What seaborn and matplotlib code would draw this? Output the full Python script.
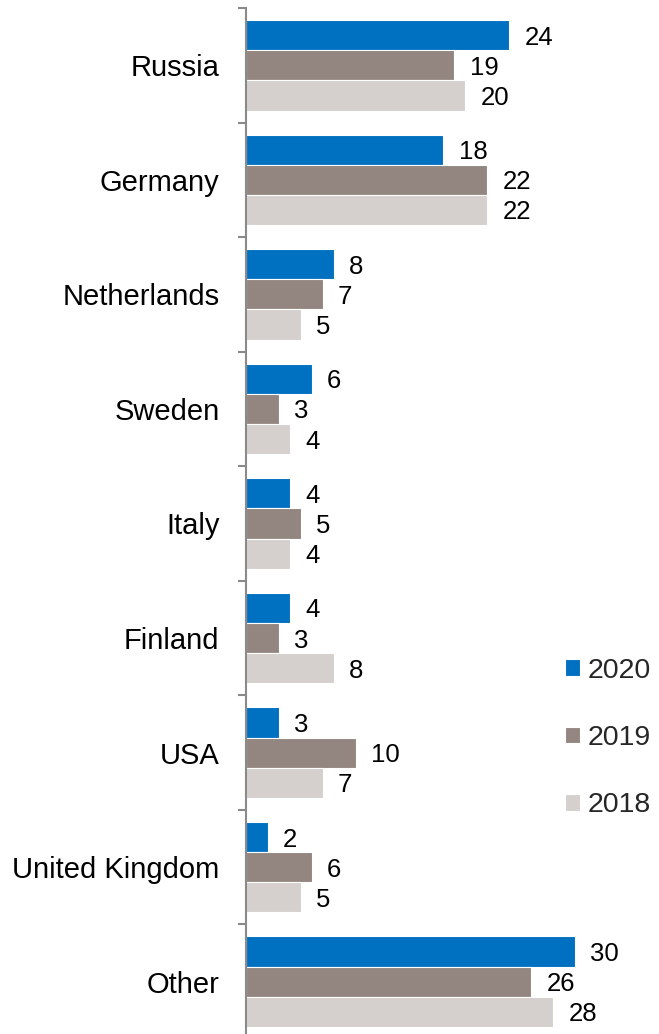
import matplotlib
matplotlib.use("Agg")
import matplotlib.pyplot as plt
import seaborn as sns
import pandas as pd
import numpy as np

# Export destinations, share of total (%), by year
countries = ["Russia", "Germany", "Netherlands", "Sweden", "Italy",
             "Finland", "USA", "United Kingdom", "Other"]
years = ["2020", "2019", "2018"]
values_2020 = [24, 18, 8, 6, 4, 4, 3, 2, 30]
values_2019 = [19, 22, 7, 3, 5, 3, 10, 6, 26]
values_2018 = [20, 22, 5, 4, 4, 8, 7, 5, 28]
colors = ["#0070C0", "#938680", "#D5D0CE"]

df = pd.DataFrame({
    "country": countries * 3,
    "year": [years[0]] * 9 + [years[1]] * 9 + [years[2]] * 9,
    "value": values_2020 + values_2019 + values_2018,
})

sns.set_theme(style="white")
plt.rcParams["font.family"] = ["Liberation Sans", "DejaVu Sans"]

W, H = 659, 1034
fig = plt.figure(figsize=(W / 100, H / 100), dpi=100)
ax_left, ax_top, ax_bottom = 246, 8, 1039
ax = fig.add_axes([ax_left / W, (H - ax_bottom) / H,
                   (W - ax_left) / W, (ax_bottom - ax_top) / H])

sns.barplot(data=df, y="country", x="value", hue="year", orient="h",
            order=countries, hue_order=years, palette=colors,
            saturation=1, width=0.79, gap=0, edgecolor="white",
            linewidth=0.8, ax=ax, legend=True)

px_per_unit = (575 - ax_left) / 30
ax.set_xlim(0, (W - ax_left) / px_per_unit)
ax.set_ylim(len(countries) - 0.5, -0.5)

for cont in ax.containers:
    texts = ax.bar_label(cont, fmt="%g", padding=11, fontsize=18.5,
                         color="black")
    for t in texts:
        t.set_va("center_baseline")

# axis styling
for s in ["top", "right", "bottom"]:
    ax.spines[s].set_visible(False)
ax.spines["left"].set_color("#8a8a8a")
ax.spines["left"].set_linewidth(1.5)
ax.set_xticks([])
ax.set_xlabel("")
ax.set_ylabel("")
ax.set_yticks(np.arange(len(countries)))
ax.set_yticklabels(countries, fontsize=21, color="black")
ax.set_yticks(np.arange(len(countries) + 1) - 0.5, minor=True)
ax.tick_params(axis="y", which="major", length=0, pad=19)
ax.tick_params(axis="y", which="minor", length=6, width=1.5,
               color="#8a8a8a", left=True)

handles, labels = ax.get_legend_handles_labels()
ax.get_legend().remove()
fig.legend(handles, labels, loc="center left",
           bbox_to_anchor=(565 / W, (H - 738) / H),
           frameon=False, fontsize=20.5, borderpad=0, borderaxespad=0,
           handlelength=0.53, handleheight=0.53, handletextpad=0.25,
           labelspacing=1.45)

fig.savefig("out.png", dpi=100)
